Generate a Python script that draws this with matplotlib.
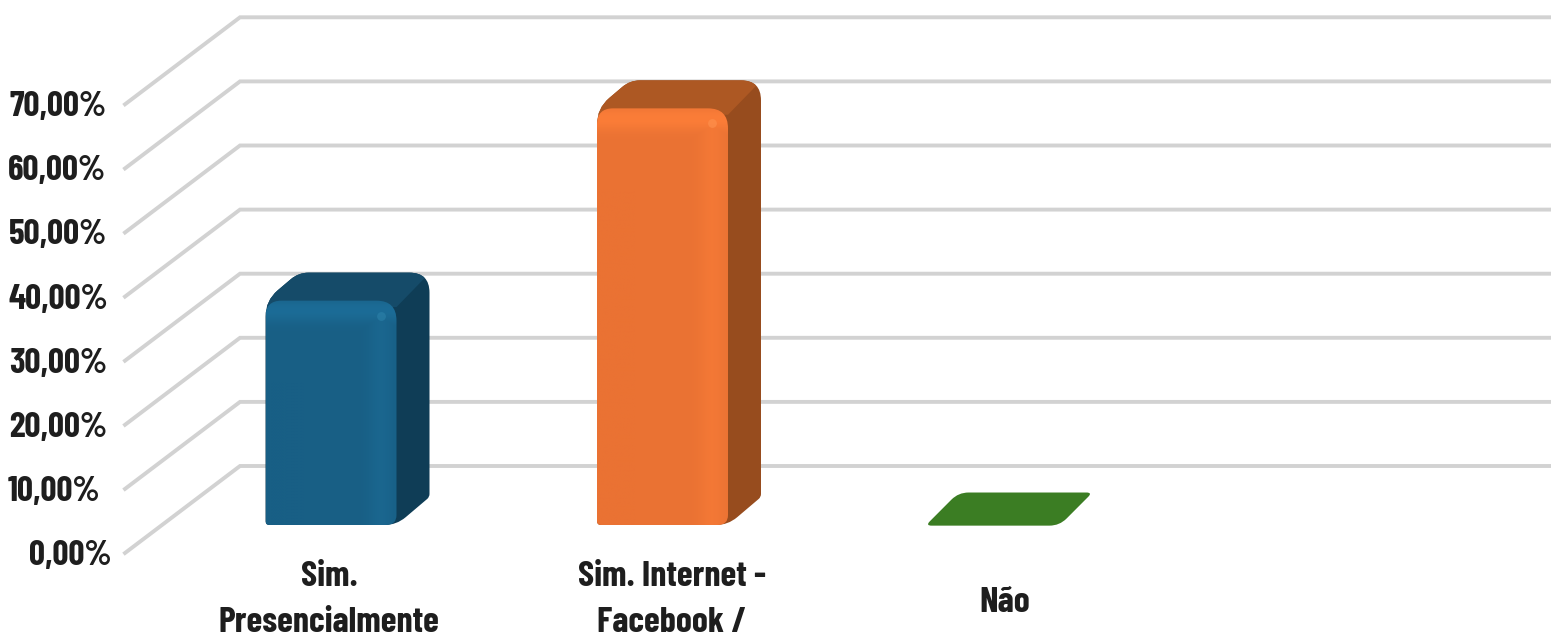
import numpy as np
import matplotlib
matplotlib.use('Agg')
import matplotlib.pyplot as plt
from matplotlib.path import Path
from matplotlib.patches import PathPatch, Polygon

categories = ['Sim.\nPresencialmente', 'Sim. Internet -\nFacebook /', 'Não']
values = [35.0, 65.0, 0.0]
tick_values = [0, 10, 20, 30, 40, 50, 60, 70]
tick_labels = ['0,00%', '10,00%', '20,00%', '30,00%', '40,00%', '50,00%', '60,00%', '70,00%']

front_colors = ['#185f85', '#ea7233', '#3b7d23']
light_colors = ['#1c6c97', '#fb7d38', '#3b7d23']
glint_colors = ['#2c82aa', '#ff9350', '#3b7d23']
side_colors = ['#0f3d56', '#974c1e', '#2a5a19']
top_colors = ['#154b69', '#ad5823', '#3b7d23']

plt.rcParams['font.family'] = ['Barlow Condensed', 'DejaVu Sans']

W, H = 1551, 639
fig = plt.figure(figsize=(W / 100, H / 100), dpi=100)
ax = fig.add_axes([0, 0, 1, 1])

# one category = 331.5 px, 1% = 6.41 px, baseline at y=525
sx, sy = 331.5, 6.41
ax.set_xlim(-331 / sx, (W - 331) / sx)
ax.set_ylim((525 - H) / sy, 525 / sy)
ax.axis('off')

bar_w = 131 / sx
dx, dy = 33 / sx, 28 / sy

# wall + floor gridlines
wall_x = -91 / sx
wall_y = 59 / sy
front_x = -206 / sx
front_y = -28 / sy
xr = (W - 331) / sx
for v in tick_values:
    ax.plot([front_x, wall_x, xr], [v + front_y, v + wall_y, v + wall_y],
            color='#d2d2d2', lw=2.8, solid_joinstyle='miter', zorder=1)


def rounded(points, radii):
    # polygon with rounded corners, radii are in pixels
    pts = [np.array([p[0] * sx, p[1] * sy]) for p in points]
    verts, codes = [], []
    n = len(pts)
    for i in range(n):
        p, a, b = pts[i], pts[i - 1], pts[(i + 1) % n]
        r = radii[i]
        u = (a - p) / np.linalg.norm(a - p)
        w = (b - p) / np.linalg.norm(b - p)
        verts += [p + u * r, p, p + w * r]
        codes += [Path.MOVETO if i == 0 else Path.LINETO, Path.CURVE3, Path.CURVE3]
    verts.append(verts[0])
    codes.append(Path.CLOSEPOLY)
    verts = [(q[0] / sx, q[1] / sy) for q in verts]
    return Path(verts, codes)


def hex_rgb(c):
    return np.array(matplotlib.colors.to_rgb(c))


for i, v in enumerate(values):
    x0 = i - bar_w / 2
    x1 = x0 + bar_w
    if v == 0:
        flat = rounded([(x0 - 3 / sx, -0.1), (x1, -0.1), (x1 + dx, dy + 0.7), (x0 + dx - 3 / sx, dy + 0.7)],
                       [6, 10, 6, 10])
        ax.add_patch(PathPatch(flat, fc=front_colors[i], ec='none', zorder=3))
        continue
    sil = rounded([(x0, 0), (x1, 0), (x1 + dx, dy), (x1 + dx, v + dy), (x0 + dx, v + dy), (x0, v)],
                  [4, 12, 3, 20, 10, 16])
    ax.add_patch(PathPatch(sil, fc=side_colors[i], ec='none', zorder=3))
    top = Polygon([(x0 - 0.05, v - 1), (x0 + dx, v + dy + 1), (x1 + dx + 0.02, v + dy + 1), (x1, v - 1)],
                  fc=top_colors[i], ec='none', zorder=4)
    ax.add_patch(top)
    top.set_clip_path(PathPatch(sil, transform=ax.transData))

    # front face shading
    front = rounded([(x0, 0), (x1, 0), (x1, v), (x0, v)], [4, 10, 20, 16])
    nx, ny = 130, 300
    img = np.zeros((ny, nx, 3))
    base, light = hex_rgb(front_colors[i]), hex_rgb(light_colors[i])
    xs = np.linspace(0, 1, nx)
    ys = np.linspace(0, 1, ny)
    px_h = v * sy
    for yy in range(ny):
        ypx = ys[yy] * px_h  # px from the top of the bar
        t_top = np.exp(-((ypx - 10) / 12) ** 2)
        for xx in range(nx):
            t_right = np.exp(-((xs[xx] - 0.88) / 0.1) ** 2) * 0.55
            t = min(1, max(t_top, t_right))
            img[yy, xx] = base + (light - base) * t
    im = ax.imshow(img, extent=(x0, x1, 0, v), origin='upper', aspect='auto', zorder=5,
                   interpolation='bilinear')
    im.set_clip_path(PathPatch(front, transform=ax.transData))
    # small glint at the top right corner
    ax.scatter([x1 - 16 / sx], [v - 15 / sy], s=40, color=glint_colors[i],
               alpha=0.6, linewidths=0, zorder=6)

# restore limits, imshow changes them
ax.set_xlim(-331 / sx, (W - 331) / sx)
ax.set_ylim((525 - H) / sy, 525 / sy)

tick_x = [111, 100, 107, 107, 108, 107, 106, 106]
for v, lab, tx in zip(tick_values, tick_labels, tick_x):
    ax.text((tx - 331) / sx, v + front_y - 3 / sy, lab, ha='right', va='center',
            fontsize=25.5, fontweight='bold', color='#1e1e1e', zorder=7)

cat_x = [329, 672, 1005]
cat_y = [600, 600, 603]
for c, cx, cy in zip(categories, cat_x, cat_y):
    ax.text((cx - 331) / sx, (525 - cy) / sy, c, ha='center', va='center', linespacing=1.55,
            fontsize=26, fontweight='bold', color='#1e1e1e', zorder=7)

fig.savefig('out.png', dpi=100, facecolor='white')
